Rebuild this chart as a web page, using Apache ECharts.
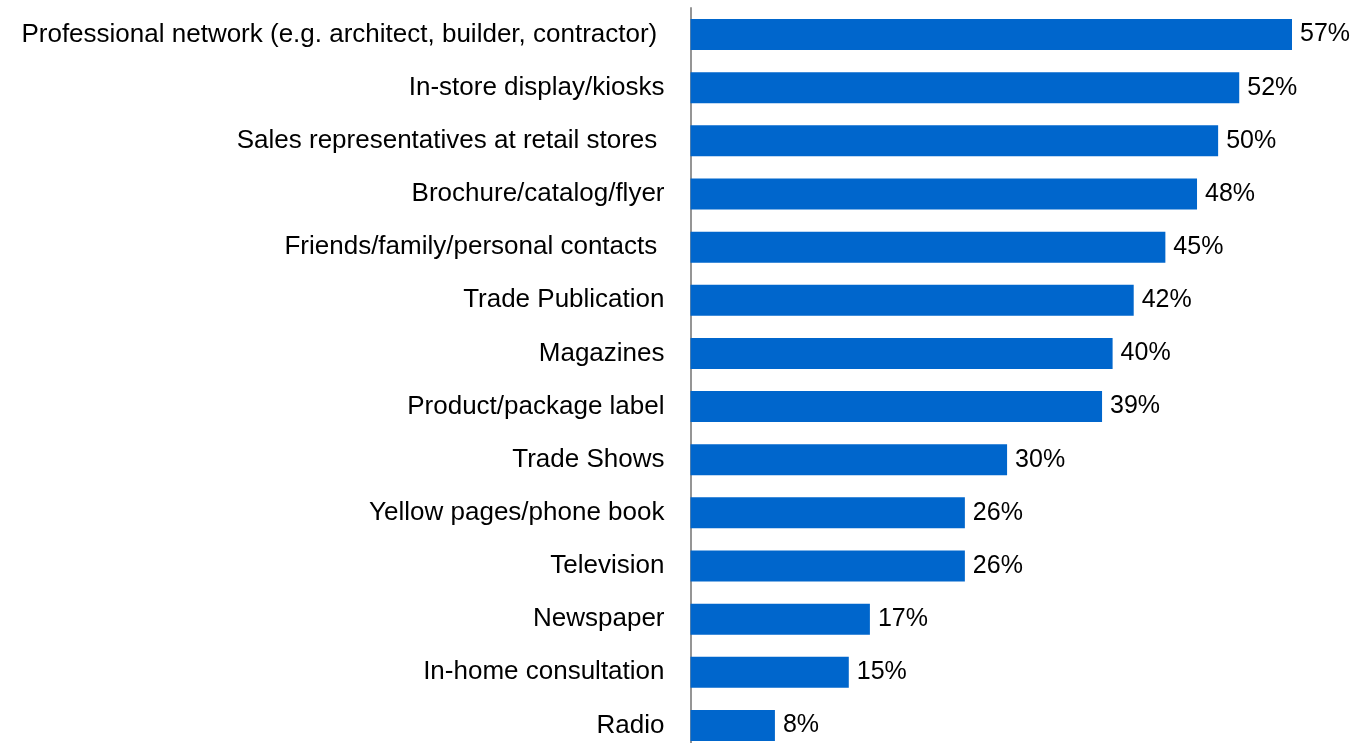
<!DOCTYPE html>
<html>
<head>
<meta charset="utf-8">
<script src="https://cdn.jsdelivr.net/npm/echarts@6/dist/echarts.min.js"></script>
<style>
  html, body { margin: 0; padding: 0; background: #ffffff; overflow: hidden; }
  #chart { width: 1357px; height: 760px; }
</style>
</head>
<body>
<div id="chart"></div>
<script>
// Information sources, listed top to bottom
const categories = [
  'Professional network (e.g. architect, builder, contractor) ',
  'In-store display/kiosks',
  'Sales representatives at retail stores ',
  'Brochure/catalog/flyer',
  'Friends/family/personal contacts ',
  'Trade Publication',
  'Magazines',
  'Product/package label',
  'Trade Shows',
  'Yellow pages/phone book',
  'Television',
  'Newspaper',
  'In-home consultation',
  'Radio'
];

// Share of respondents, in percent
const values = [57, 52, 50, 48, 45, 42, 40, 39, 30, 26, 26, 17, 15, 8];

const chart = echarts.init(document.getElementById('chart'), null, { renderer: 'canvas' });

chart.setOption({
  animation: false,
  grid: { left: 690.5, top: 8, width: 601.5, height: 744, containLabel: false },
  xAxis: {
    type: 'value',
    min: 0,
    max: 57,
    show: false
  },
  yAxis: {
    type: 'category',
    inverse: true,
    data: categories,
    axisLine: { show: true, lineStyle: { color: '#959595', width: 2 } },
    axisTick: { show: false },
    splitLine: { show: false },
    axisLabel: {
      margin: 26,
      color: '#000000',
      fontFamily: 'Liberation Sans, Arial, sans-serif',
      fontSize: 26
    }
  },
  series: [{
    type: 'bar',
    data: values,
    barWidth: 31,
    itemStyle: { color: '#0066CC' },
    label: {
      show: true,
      position: 'right',
      distance: 8,
      formatter: p => p.value + '%',
      color: '#000000',
      fontFamily: 'Liberation Sans, Arial, sans-serif',
      fontSize: 25
    }
  }]
});
</script>
</body>
</html>
